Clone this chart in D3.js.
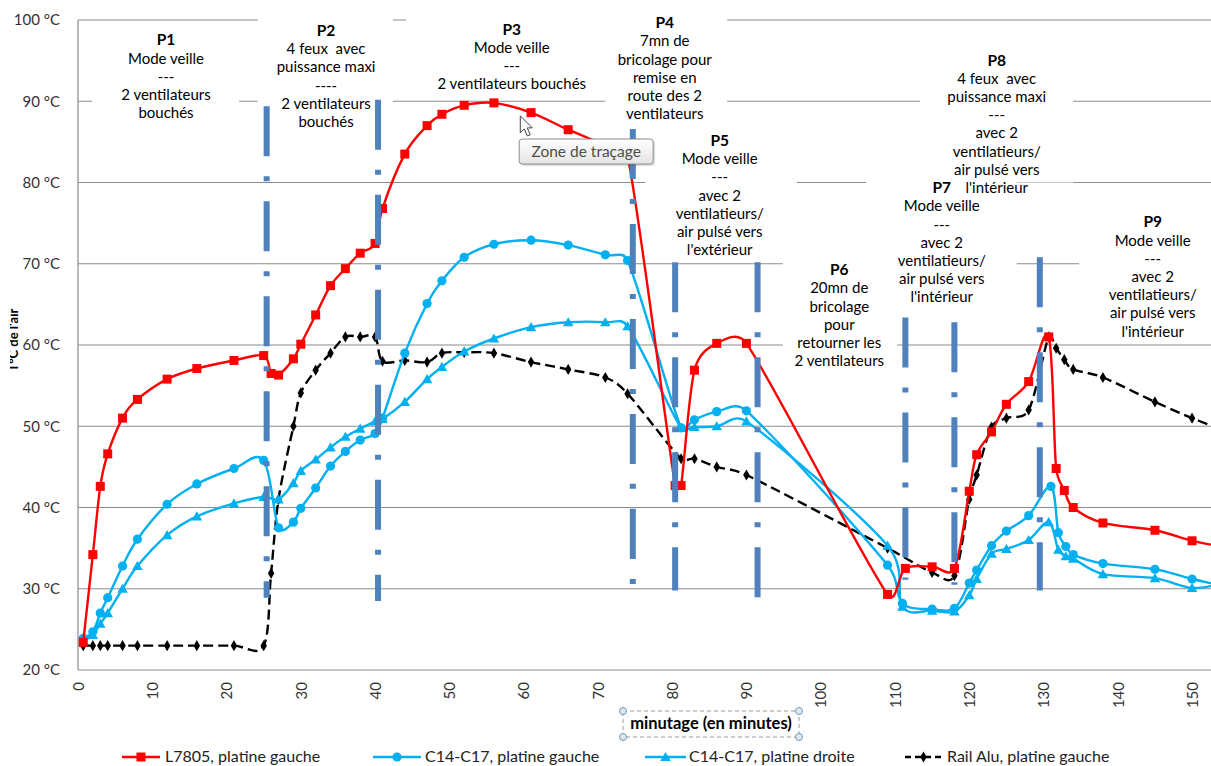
<!DOCTYPE html>
<html><head><meta charset="utf-8">
<script src="https://cdn.jsdelivr.net/npm/d3@7"></script>
<style>
body{margin:0;background:#fff;}
svg{display:block;font-family:Lato,"Open Sans",sans-serif;}
</style></head><body>
<svg id="chart" width="1211" height="766"></svg>
<script>
// ---------- DATA ----------
const xTicks = [0,10,20,30,40,50,60,70,80,90,100,110,120,130,140,150];
const yTicks = [20,30,40,50,60,70,80,90,100];

const l7805Min  = [0.7,2,3,4,6,8,12,16,21,25,26,27,29,30,32,34,36,38,40,41,44,47,49,52,56,61,66,71,74,80.4,81.2,83,86,90,109,111.4,115,118,120,121,123,125,128,130.7,131.7,132.8,134,138,145,150,154];
const l7805Temp = [23.4,34.2,42.6,46.6,51.0,53.3,55.8,57.1,58.1,58.7,56.5,56.3,58.3,60.1,63.7,67.3,69.4,71.3,72.5,76.8,83.5,87.0,88.4,89.5,89.8,88.6,86.5,84.6,83.3,42.7,42.7,56.9,60.2,60.2,29.3,32.5,32.7,32.5,42.0,46.5,49.3,52.7,55.5,61.0,44.8,42.1,40.0,38.1,37.2,35.9,35.2];

const c14gMin  = [0.7,2,3,4,6,8,12,16,21,25,27,29,30,32,34,36,38,40,41,44,47,49,52,56,61,66,71,74,81.2,83,86,90,109,111,115,118,120,121,123,125,128,131,132,133,134,138,145,150,154];
const c14gTemp = [23.9,24.7,27.0,28.9,32.8,36.1,40.4,42.9,44.8,45.8,37.5,38.2,39.9,42.4,45.1,46.9,48.3,49.1,51.0,59.0,65.1,67.9,70.8,72.4,72.9,72.3,71.1,70.4,49.8,50.8,51.8,51.9,32.9,28.2,27.5,27.6,30.7,32.3,35.3,37.1,39.0,42.6,36.9,35.2,34.2,33.1,32.4,31.2,30.4];

const c14dMin  = [0.7,2,3,4,6,8,12,16,21,25,27,29,30,32,34,36,38,40,41,44,47,49,52,56,61,66,71,74,81.2,83,86,90,109,111,115,118,120,121,123,125,128,130.7,132,133,134,138,145,150,154];
const c14dTemp = [23.6,24.3,25.7,27.0,30.0,32.8,36.6,38.9,40.5,41.3,41.0,43.0,44.5,45.9,47.4,48.7,49.7,50.6,50.9,53.0,55.8,57.3,59.2,60.8,62.2,62.8,62.8,62.3,49.8,49.9,50.0,50.6,35.3,27.8,27.3,27.2,29.2,31.2,34.3,34.9,36.0,38.2,34.8,34.0,33.7,31.8,31.3,30.1,30.6];

const railMin  = [0.7,2,3,4,6,8,12,16,21,25,26,27,29,30,32,34,36,38,40,41,44,47,49,52,56,61,66,71,74,81.2,83,86,90,109,115,118,120,121,123,125,128,130.7,131.7,132.8,134,138,145,150,154];
const railTemp = [23.0,23.0,23.0,23.0,23.0,23.0,23.0,23.0,23.0,23.0,31.9,41.0,50.0,54.1,56.9,59.0,61.0,61.0,61.0,58.0,58.1,57.9,59.0,59.1,59.0,57.9,57.0,56.0,54.0,46.0,46.0,45.0,44.0,35.0,32.0,31.6,41.0,44.0,49.9,51.0,52.0,61.0,59.6,58.2,57.0,56.0,53.0,51.0,49.6];

const seriesNames = ["L7805, platine gauche","C14-C17, platine gauche","C14-C17, platine droite","Rail Alu, platine gauche"];

// phase boundaries (minutes) and their vertical extent (°C)
const phaseMin    = [25.4,40.4,74.7,80.4,91.5,111.4,118.0,129.5];
const phaseTop    = [89.4,90.2,86.6,70.2,70.2,63.4,62.8,70.8];
const phaseBottom = [28.9,28.5,28.6,29.8,28.6,31.1,30.5,29.8];

// phase annotations
const annotTitles = ["P1","P2","P3","P4","P5","P6","P7","P8","P9"];
const annotLines = [
  ["Mode veille","---","2 ventilateurs","bouchés"],
  ["4 feux  avec","puissance maxi","----","2 ventilateurs","bouchés"],
  ["Mode veille","---","2 ventilateurs bouchés"],
  ["7mn de","bricolage pour","remise en","route des 2","ventilateurs"],
  ["Mode veille","---","avec 2","ventilatieurs/","air pulsé vers","l'extérieur"],
  ["20mn de","bricolage","pour","retourner les","2 ventilateurs"],
  ["Mode veille","---","avec 2","ventilatieurs/","air pulsé vers","l'intérieur"],
  ["4 feux  avec","puissance maxi","---","avec 2","ventilatieurs/","air pulsé vers","l'intérieur"],
  ["Mode veille","---","avec 2","ventilatieurs/","air pulsé vers","l'intérieur"]
];
const yTitle = "T°C de l'air";
const xTitle = "minutage (en minutes)";
const tooltipText = "Zone de traçage";

// ---------- LAYOUT (data units) ----------
const annotMin  = [11.85,33.4,58.4,79.0,86.4,102.5,116.3,123.7,144.7];
const annotTemp = [97.5,98.65,98.8,99.6,85.1,69.2,79.3,95.0,75.1];
const boxFrom   = [1.9,24.2,44.2,71.0,76.4,94.9,106.1,113.4,134.8];
const boxTo     = [21.7,42.4,71.0,87.4,96.8,110.3,126.4,134.0,154];
const boxTop    = [99.2,101,101,101,86.5,71.2,81.0,95.4,76.6];
const boxBottom = [85.0,86.0,90.6,87.2,70.6,56.5,65.0,80.0,61.0];

// ---------- CHART ----------
const W = 1211, H = 766;
const svg = d3.select("#chart");
const x = d3.scaleLinear().domain([0,152.55]).range([78,1211]);
const y = d3.scaleLinear().domain([20,100]).range([670,20]);

const gridColor = "#8c8c8c";
svg.append("rect").attr("width",W).attr("height",H).attr("fill","#fff");

// grid
svg.append("g").selectAll("line").data(yTicks).join("line")
  .attr("x1",x.range()[0]).attr("x2",x.range()[1])
  .attr("y1",d=>y(d)).attr("y2",d=>y(d))
  .attr("stroke",gridColor).attr("stroke-width",1.2);
svg.append("line").attr("x1",78).attr("x2",78).attr("y1",y(100)).attr("y2",y(20))
  .attr("stroke",gridColor).attr("stroke-width",1.2);

// y axis
const yAxis = svg.append("g").attr("transform","translate(78,0)")
  .call(d3.axisLeft(y).tickValues(yTicks).tickSize(0).tickPadding(18).tickFormat(d=>d+" °C"));
yAxis.select(".domain").remove();
yAxis.selectAll("text").attr("font-size",15).attr("fill","#333").attr("font-family","Lato");

// x axis
const xAxis = svg.append("g").attr("transform","translate(0,670)")
  .call(d3.axisBottom(x).tickValues(xTicks).tickSize(0));
xAxis.select(".domain").remove();
xAxis.selectAll("text").attr("font-size",15).attr("fill","#333").attr("font-family","Lato")
  .attr("transform","rotate(-90)").attr("x",-12).attr("y",0).attr("dy","0.35em")
  .style("text-anchor","end");

// y title (partly cut at the left edge as in the reference)
svg.append("clipPath").attr("id","ytclip").append("rect")
  .attr("x",10).attr("y",0).attr("width",40).attr("height",H);
svg.append("g").attr("clip-path","url(#ytclip)")
  .append("text")
  .attr("transform",`translate(18,${y(60.6)}) rotate(-90)`)
  .attr("text-anchor","middle").attr("font-size",13).attr("font-weight","bold").text(yTitle);

// annotation boxes (white)
svg.append("g").selectAll("rect").data(annotTitles).join("rect")
  .attr("x",(d,i)=>x(boxFrom[i])).attr("width",(d,i)=>x(boxTo[i])-x(boxFrom[i]))
  .attr("y",(d,i)=>y(boxTop[i])).attr("height",(d,i)=>y(boxBottom[i])-y(boxTop[i]))
  .attr("fill","#fff");

// annotation texts
const lh = 18.2;
const ag = svg.append("g").attr("font-size",15).attr("fill","#000").attr("text-anchor","middle");
annotTitles.forEach((t,i)=>{
  const cx = x(annotMin[i]), cy = y(annotTemp[i]) + 5;
  const tx = ag.append("text").attr("x",cx).attr("y",cy).style("white-space","pre");
  tx.append("tspan").attr("x",cx).attr("font-weight","bold").attr("font-size",15.5).text(t);
  annotLines[i].forEach((l,k)=>{
    tx.append("tspan").attr("x",cx).attr("dy",lh).text(l);
  });
});

// clip for series
svg.append("clipPath").attr("id","plotclip").append("rect")
  .attr("x",78).attr("y",0).attr("width",W-78).attr("height",672);
const plot = svg.append("g").attr("clip-path","url(#plotclip)");

// Excel-like smoothing: Catmull-Rom handles, clamped to half of the segment length
function smoothPath(pts){
  const n = pts.length, k = 0.5;
  const clamp = (h, lim)=>{ const L = Math.hypot(h[0],h[1]); return L>lim ? [h[0]*lim/L, h[1]*lim/L] : h; };
  let d = `M${pts[0][0]},${pts[0][1]}`;
  for(let i=0;i<n-1;i++){
    const p0 = pts[Math.max(0,i-1)], p1 = pts[i], p2 = pts[i+1], p3 = pts[Math.min(n-1,i+2)];
    const seg = Math.hypot(p2[0]-p1[0], p2[1]-p1[1]);
    const h1 = clamp([(p2[0]-p0[0])/6,(p2[1]-p0[1])/6], k*seg);
    const h2 = clamp([(p3[0]-p1[0])/6,(p3[1]-p1[1])/6], k*seg);
    d += ` C${p1[0]+h1[0]},${p1[1]+h1[1]} ${p2[0]-h2[0]},${p2[1]-h2[1]} ${p2[0]},${p2[1]}`;
  }
  return d;
}
const zip = (a,b)=>a.map((v,i)=>[v,b[i]]);

const series = [
  {pts:zip(l7805Min,l7805Temp), color:"#ff0000", marker:"square", dash:null},
  {pts:zip(c14gMin,c14gTemp), color:"#00b0f0", marker:"circle", dash:null},
  {pts:zip(c14dMin,c14dTemp), color:"#00b0f0", marker:"triangle", dash:null},
  {pts:zip(railMin,railTemp), color:"#000000", marker:"diamond", dash:"10,5"}
];

function drawMarker(g, type, color, px, py){
  if(type==="square"){
    g.append("rect").attr("x",px-4.5).attr("y",py-4.5).attr("width",9).attr("height",9).attr("fill",color);
  } else if(type==="circle"){
    g.append("circle").attr("cx",px).attr("cy",py).attr("r",4.6).attr("fill",color);
  } else if(type==="triangle"){
    g.append("path").attr("d",d3.symbol(d3.symbolTriangle,48)())
     .attr("transform",`translate(${px},${py+1})`).attr("fill",color);
  } else {
    g.append("path").attr("d",d3.symbol(d3.symbolDiamond,36)())
     .attr("transform",`translate(${px},${py})`).attr("fill",color);
  }
}

[3,2,1,0].forEach(si=>{
  const s = series[si];
  const g = plot.append("g");
  const px = s.pts.map(p=>[x(p[0]), y(p[1])]);
  g.append("path").attr("d",smoothPath(px)).attr("fill","none")
    .attr("stroke",s.color).attr("stroke-width",2.4)
    .attr("stroke-dasharray",s.dash).attr("stroke-linejoin","round");
  px.forEach(p=>drawMarker(g,s.marker,s.color,p[0],p[1]));
});

// phase boundary dash-dot bars
svg.append("g").selectAll("line").data(phaseMin).join("line")
  .attr("x1",d=>x(d)).attr("x2",d=>x(d))
  .attr("y1",(d,i)=>y(phaseTop[i])).attr("y2",(d,i)=>y(phaseBottom[i]))
  .attr("stroke","#4f81bd").attr("stroke-width",6)
  .attr("stroke-dasharray","50,20,5,20");

// tooltip "Zone de traçage" and cursor
const defs = svg.append("defs");
const grad = defs.append("linearGradient").attr("id","tipgrad").attr("x1",0).attr("y1",0).attr("x2",0).attr("y2",1);
grad.append("stop").attr("offset","0%").attr("stop-color","#ffffff");
grad.append("stop").attr("offset","100%").attr("stop-color","#e4e4e4");
const tipX = x(59.4), tipY = y(85.35);
svg.append("rect").attr("x",tipX+2).attr("y",tipY+2).attr("width",134).attr("height",25)
  .attr("rx",3).attr("fill","#000").attr("opacity",0.12);
svg.append("rect").attr("x",tipX).attr("y",tipY).attr("width",134).attr("height",25)
  .attr("rx",3).attr("fill","url(#tipgrad)").attr("stroke","#8a8a8a");
svg.append("text").attr("x",tipX+67).attr("y",tipY+18).attr("text-anchor","middle")
  .attr("font-size",15.5).attr("fill","#4d4d4d").text(tooltipText);
const cx0 = x(59.55), cy0 = y(88.2);
svg.append("path").attr("d","M0,0 L0,17 L4,13 L7,20 L10,19 L7,12 L12,12 Z")
  .attr("transform",`translate(${cx0},${cy0})`).attr("fill","#fff").attr("stroke","#444").attr("stroke-width",1);

// x title with selection frame
const titleCx = 711, titleCy = 724;
svg.append("rect").attr("x",titleCx-88).attr("y",titleCy-13).attr("width",176).attr("height",26)
  .attr("fill","none").attr("stroke","#9a9a9a").attr("stroke-dasharray","4,3");
[[titleCx-88,titleCy-13],[titleCx+88,titleCy-13],[titleCx-88,titleCy+13],[titleCx+88,titleCy+13]].forEach(p=>{
  svg.append("circle").attr("cx",p[0]).attr("cy",p[1]).attr("r",3.5)
    .attr("fill","#dde8f3").attr("stroke","#7a96b4").attr("stroke-width",1);
});
svg.append("text").attr("x",titleCx).attr("y",titleCy+5).attr("text-anchor","middle")
  .attr("font-size",16.5).attr("font-weight","bold").attr("fill","#000").text(xTitle);

// legend
const legendItems = [
  {x0:122, x1:160, tx:165},
  {x0:373, x1:421, tx:425},
  {x0:645, x1:686, tx:689},
  {x0:905, x1:942, tx:947}
];
const ly = 757;
const lg = svg.append("g");
series.forEach((s,i)=>{
  const it = legendItems[i];
  lg.append("line").attr("x1",it.x0).attr("x2",it.x1).attr("y1",ly).attr("y2",ly)
    .attr("stroke",s.color).attr("stroke-width",2.6).attr("stroke-dasharray",s.dash?"6,4":null);
  drawMarker(lg,s.marker,s.color,(it.x0+it.x1)/2,ly);
  lg.append("text").attr("x",it.tx).attr("y",ly+5).attr("font-size",16).attr("fill","#222").text(seriesNames[i]);
});
</script>
</body></html>
